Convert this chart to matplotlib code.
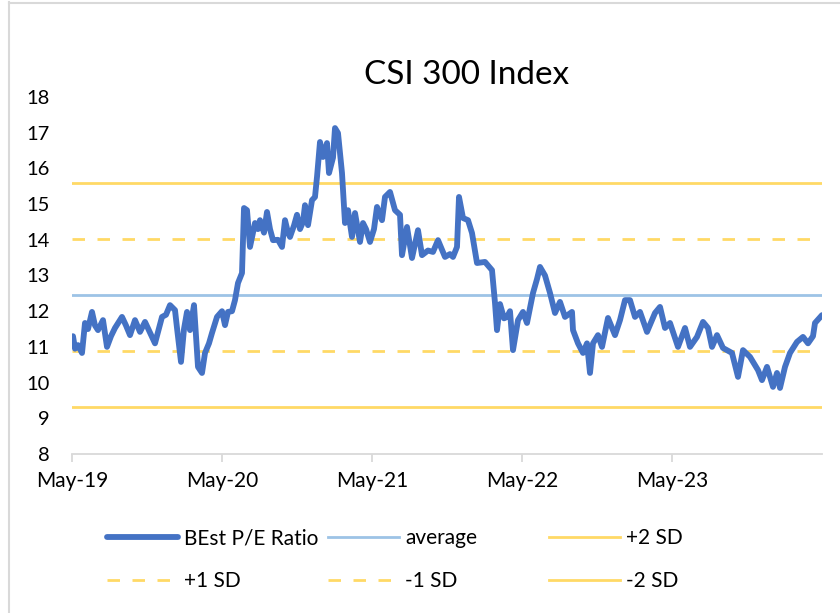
import numpy as np
from matplotlib import pyplot as plt
from matplotlib.lines import Line2D

plt.rcParams['font.family'] = ['Lato', 'DejaVu Sans']

# months since May-19
months = [0.08, 0.24, 0.48, 0.8, 1.04, 1.28, 1.6, 1.84, 2.08, 2.48, 2.8, 3.12, 3.44, 4.0, 4.32,
          4.64, 5.04, 5.44, 5.84, 6.24, 6.64, 7.2, 7.52, 7.84, 8.24, 8.4, 8.72, 8.96, 9.2, 9.44,
          9.76, 10.08, 10.4, 10.64, 10.96, 11.2, 11.6, 12.0, 12.24, 12.48, 12.8, 13.04, 13.28,
          13.6, 13.76, 14.0, 14.24, 14.64, 14.88, 15.04, 15.36, 15.6, 15.84, 16.08, 16.48, 16.8,
          17.04, 17.28, 17.44, 17.76, 18.0, 18.24, 18.48, 18.64, 18.88, 19.2, 19.44, 19.6, 19.84,
          20.08, 20.4, 20.56, 20.88, 21.04, 21.28, 21.6, 21.84, 22.08, 22.4, 22.64, 23.04, 23.28,
          23.52, 23.84, 24.16, 24.4, 24.8, 25.04, 25.44, 25.84, 26.24, 26.4, 26.8, 27.2, 27.68,
          28.0, 28.48, 28.88, 29.28, 29.84, 30.24, 30.48, 30.8, 30.96, 31.28, 31.68, 32.0, 32.4,
          33.04, 33.6, 33.84, 34.0, 34.24, 34.56, 34.8, 35.04, 35.28, 35.68, 36.08, 36.4, 36.88,
          37.2, 37.44, 37.84, 38.24, 38.64, 39.04, 39.44, 40.0, 40.08, 40.48, 40.88, 41.2, 41.44,
          41.68, 42.08, 42.4, 42.88, 43.44, 43.84, 44.24, 44.64, 45.04, 45.44, 46.0, 46.64, 47.04,
          47.44, 47.84, 48.48, 49.04, 49.44, 50.0, 50.48, 50.88, 51.2, 51.6, 52.08, 52.8, 53.28,
          53.68, 54.24, 54.88, 55.2, 55.6, 56.08, 56.4, 56.64, 57.04, 57.44, 58.0, 58.48, 58.88,
          59.28, 59.44, 60.0]
pe = [11.3, 10.95, 11.05, 10.83, 11.67, 11.5, 11.98, 11.6, 11.47, 11.75, 11.0, 11.3, 11.53, 11.84, 11.6,
      11.33, 11.75, 11.42, 11.7, 11.4, 11.1, 11.84, 11.9, 12.17, 12.03, 11.53, 10.58, 11.5, 11.98, 11.47,
      12.17, 10.44, 10.27, 10.83, 11.1, 11.39, 11.84, 12.0, 11.61, 11.98, 12.0, 12.31, 12.79,
      13.07, 14.89, 14.83, 13.8, 14.47, 14.3, 14.55, 14.2, 14.78, 14.3, 13.99, 14.0, 13.8,
      14.55, 14.2, 14.08, 14.4, 14.7, 14.3, 14.5, 14.97, 14.41, 15.11, 15.2, 15.76, 16.74,
      16.32, 16.71, 15.87, 16.3, 17.13, 16.99, 15.87, 14.47, 14.83, 14.08, 14.75, 13.94, 14.47,
      14.3, 13.94, 14.3, 14.92, 14.55, 15.2, 15.34, 14.83, 14.7, 13.57, 14.36, 13.49, 14.27,
      13.57, 13.7, 13.66, 13.99, 13.52, 13.6, 13.52, 13.8, 15.2, 14.61, 14.55, 14.19, 13.35,
      13.38, 13.15, 12.23, 11.47, 12.2, 11.8, 11.84, 12.0, 10.91, 11.75, 11.98, 11.67, 12.51,
      12.9, 13.24, 13.0, 12.51, 11.95, 12.26, 11.84, 11.98, 11.47, 11.1, 10.83, 11.1, 10.27,
      11.1, 11.33, 11.0, 11.81, 11.33, 11.75, 12.31, 12.31, 11.84, 11.98, 11.42, 11.95, 12.12,
      11.53, 11.67, 11.0, 11.53, 11.0, 11.28, 11.7, 11.53, 11.0, 11.33, 10.97, 10.83, 10.16,
      10.91, 10.72, 10.35, 10.07, 10.44, 9.88, 10.27, 9.85, 10.44, 10.83, 11.14, 11.28, 11.1,
      11.3, 11.67, 11.89]

avg = 12.45
sd = 1.57

tick_pos = [0, 12, 24, 36, 48]
tick_labels = ['May-19', 'May-20', 'May-21', 'May-22', 'May-23']

blue = '#4472C4'
lblue = '#9DC3E6'
gold = '#FFD966'

fig = plt.figure(figsize=(8.4, 6.13), dpi=100)
ax = fig.add_axes([72/840, 1-454/613, 750/840, 357/613])

l_pe, = ax.plot(months, pe, color=blue, lw=4.2, solid_joinstyle='round', solid_capstyle='round', zorder=5)
x_full = [0, 60]
l_avg, = ax.plot(x_full, [avg]*2, color=lblue, lw=2.0)
l_p2, = ax.plot(x_full, [avg+2*sd]*2, color=gold, lw=2.0)
l_p1, = ax.plot(x_full, [avg+sd]*2, color=gold, lw=2.0, ls=(0, (4.5, 4.5)))
l_m1, = ax.plot(x_full, [avg-sd]*2, color=gold, lw=2.0, ls=(0, (4.5, 4.5)))
l_m2, = ax.plot(x_full, [avg-2*sd]*2, color=gold, lw=2.0)

ax.set_xlim(0, 60)
ax.set_ylim(8, 18)
ax.set_yticks(range(8, 19))
ax.set_xticks(tick_pos)
ax.set_xticklabels(tick_labels)
for s in ['top', 'right', 'left']:
    ax.spines[s].set_visible(False)
ax.spines['bottom'].set_color('#d9d9d9')
ax.spines['bottom'].set_linewidth(1.3)
ax.tick_params(axis='y', length=0, pad=16, labelsize=14.5)
ax.tick_params(axis='x', length=6, width=1.3, color='#d9d9d9', pad=6, labelsize=15)

fig.text(467/840, 1-75/613, 'CSI 300 Index', ha='center', va='center', fontsize=24)

# legend, three fixed-width columns like the Excel one
cols = [([l_pe, l_p1], ['BEst P/E Ratio', '+1 SD']),
        ([l_avg, l_m1], ['average', '-1 SD']),
        ([l_p2, l_m2], ['+2 SD', '-2 SD'])]
for k, (h, lab) in enumerate(cols):
    fig.legend(h, lab, loc='center left', bbox_to_anchor=((107+221*k)/840, 1-559.5/613),
               frameon=False, fontsize=15, handlelength=3.4, handletextpad=0.3,
               labelspacing=1.1, borderpad=0, borderaxespad=0)

# thin grey chart border
fig.add_artist(Line2D([8.5/840, 8.5/840], [0, 1-2/613], color='#d9d9d9', lw=1.5))
fig.add_artist(Line2D([8.5/840, 1], [1-2.5/613, 1-2.5/613], color='#d9d9d9', lw=1.5))

fig.savefig('out.png', dpi=100)
